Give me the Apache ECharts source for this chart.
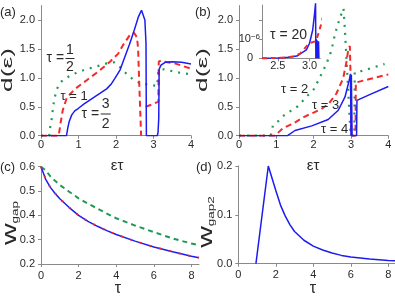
<!DOCTYPE html>
<html><head><meta charset="utf-8">
<script src="https://cdn.jsdelivr.net/npm/echarts@6/dist/echarts.min.js"></script>
<style>html,body{margin:0;padding:0;background:#fff}#c{width:395px;height:296px}</style>
</head><body><div id="c"></div>
<script>
// ---- data ----
// panel (a): d(eps) vs eps*tau
const aTauHalf = [[0,0],[0.22,0],[0.24,0.13],[0.28,0.27],[0.31,0.42],[0.35,0.62],[0.42,0.8],[0.5,0.91],[0.6,0.97],[0.73,1.02],[0.95,1.09],[1.17,1.14],[1.49,1.2],[1.75,1.25],[1.95,1.27],[2.1,1.19],[2.28,1.07],[2.46,0.97],[2.64,0.91],[2.86,0.88],[3.1,0.86],[3.13,1.13],[3.28,1.15],[3.47,1.12],[3.69,1.09],[4.0,1.06]];
const aTauOne = [[0,0],[0.47,0],[0.5,0.12],[0.53,0.25],[0.58,0.44],[0.69,0.66],[0.91,0.81],[1.22,0.96],[1.53,1.11],[1.84,1.28],[2.06,1.42],[2.2,1.58],[2.37,1.74],[2.48,1.78],[2.56,1.7],[2.59,1.5],[2.62,0.9],[2.67,0],[2.72,null],[2.79,0.5],[3.0,0.55],[3.13,0.59],[3.14,1.28],[3.2,1.3],[3.29,1.28],[3.57,1.25],[4.0,1.16]];
const aTauThreeHalves = [[0,0],[0.68,0],[0.71,0.12],[0.75,0.24],[0.82,0.36],[0.9,0.43],[0.99,0.47],[1.15,0.55],[1.31,0.62],[1.57,0.73],[1.75,0.81],[1.88,0.9],[1.97,0.99],[2.11,1.14],[2.24,1.37],[2.36,1.58],[2.46,1.77],[2.6,2.06],[2.68,2.17],[2.73,2.15],[2.77,2.0],[2.8,1.6],[2.81,0],[3.1,0],[3.12,0.05],[3.14,0.3],[3.15,1.15],[3.2,1.22],[3.31,1.27],[3.5,1.28],[3.75,1.27],[4.0,1.24]];
// panel (b)
const bTau2 = [[0,0],[0.85,0],[0.91,0.18],[1.05,0.25],[1.22,0.36],[1.58,0.51],[1.8,0.67],[2.0,0.8],[2.16,1.0],[2.34,1.24],[2.47,1.46],[2.57,1.75],[2.65,1.93],[2.74,2.1],[2.8,2.2],[2.84,1.8],[2.89,1.2],[2.94,0.6],[2.99,0],[3.09,0],[3.1,1.1],[3.3,1.12],[3.55,1.17],[3.9,1.24]];
const bTau3 = [[0,0],[0.96,0],[1.18,0.13],[1.45,0.21],[1.76,0.33],[2.0,0.4],[2.2,0.46],[2.4,0.55],[2.61,0.73],[2.79,0.99],[2.88,1.28],[2.93,1.5],[2.97,1.55],[2.99,1.0],[3.01,0],[3.12,0],[3.13,0.92],[3.5,0.98],[4.0,1.06]];
const bTau4 = [[0,0],[1.3,0],[1.5,0.09],[1.95,0.17],[2.39,0.28],[2.66,0.44],[2.84,0.67],[2.95,0.95],[2.99,1.07],[3.0,0],[3.01,1.05],[3.03,0],[3.15,0],[3.16,0.61],[3.5,0.71],[4.0,0.85]];
// inset of (b), tau = 20, values in units of 1e-6
const insetTau20Blue = [[2.25,0],[2.5,0.02],[2.66,0.05],[2.8,0.12],[2.95,0.44],[3.0,0.79],[3.05,1.49],[3.08,2.37],[3.095,2.9],[3.1,0],[3.106,1.0],[3.112,0],[3.118,0.95],[3.124,0],[3.13,0.9],[3.136,0],[3.142,0.9],[3.148,0]];
const insetTau20Red = [[2.25,0],[2.6,0.03],[2.75,0.1],[2.85,0.25],[2.93,0.55],[3.0,0.8],[3.1,0.9],[3.15,1.4],[3.2,2.0],[3.27,3.1]];
// panel (c): w_gap vs tau
const cTau = [0,0.25,0.5,0.75,1,1.5,2,2.5,3,3.5,4,5,6,7,8,8.4];
const cBlue = [0.6,0.548,0.515,0.49,0.468,0.432,0.40,0.375,0.355,0.337,0.321,0.294,0.270,0.250,0.232,0.226];
const cRed = [0.6,0.548,0.515,0.49,0.468,0.432,0.40,0.375,0.355,0.337,0.321,0.294,0.270,0.250,0.232,0.226];
const cGreen = [0.6,0.585,0.56,0.542,0.525,0.497,0.47,0.448,0.428,0.407,0.388,0.358,0.331,0.305,0.284,0.277];
// panel (d): w_gap2 vs tau
const dTau = [0.94,1.6,2.0,2.25,2.5,2.75,3,3.5,4,4.5,5,5.5,6,7,8,8.4];
const dW2 = [0,0.2,0.15,0.12,0.098,0.08,0.066,0.048,0.036,0.028,0.022,0.017,0.0135,0.0095,0.0068,0.006];
// ticks
const abXTicks = [0,1,2,3,4];
const abYTicks = [0,0.5,1,1.5,2];
const cdXTicks = [0,2,4,6,8];
const cYTicks = [0.2,0.3,0.4,0.5,0.6];
const dYTicks = [0,0.1,0.2];
const insetXTicks = [2.5,3.0];
const insetYTicks = [0,1,2];
const insetYLabels = [0,1];

const FONT = 'Liberation Sans';
const BLUE = '#1c1cf2', RED = '#f42a2a', GREEN = '#1e9a55';
const AX = '#8a8a8a', TX = '#2a2a2a';

function axis(gi, min, max, ticks, margin, fmt, extra) {
  const a = {
    type: 'value', gridIndex: gi, min: min, max: max,
    axisLine: {show: true, onZero: false, lineStyle: {color: AX, width: 1}},
    axisTick: {show: true, inside: false, length: 3, customValues: ticks, lineStyle: {color: AX}},
    axisLabel: {show: true, customValues: ticks, margin: margin, color: TX, fontSize: 11, fontFamily: FONT,
      formatter: fmt || (v => String(v))},
    splitLine: {show: false}
  };
  if (extra) extra(a);
  return a;
}
const f1 = v => v.toFixed(1);
const zip = (xs, ys) => xs.map((x, i) => [x, ys[i]]);

function line(xi, data, color, width, type, extra) {
  const s = {type: 'line', xAxisIndex: xi, yAxisIndex: xi, data: data, showSymbol: false, symbol: 'none',
    animation: false, connectNulls: false,
    lineStyle: {color: color, width: width, type: type, cap: 'butt'}};
  if (extra) Object.assign(s, extra);
  return s;
}

function txt(x, y, s, size, align, extra) {
  const t = {type: 'text', x: x, y: y, z: 100,
    style: {text: s, fontSize: size, fontFamily: FONT, fill: TX, align: align || 'left', verticalAlign: 'middle'}};
  if (extra) Object.assign(t, extra);
  return t;
}
function frac(xEq, yMid, num, den, xF, dy, halfW, size) {
  return [
    txt(xEq, yMid, 'τ =', size, 'left'),
    txt(xF, yMid - dy, num, size, 'center'),
    {type: 'line', z: 100, shape: {x1: xF - halfW, y1: yMid, x2: xF + halfW, y2: yMid}, style: {stroke: TX, lineWidth: 1}},
    txt(xF, yMid + dy, den, size, 'center')
  ];
}
function vtitle(x, y, rich, text, sc) {
  return {type: 'text', x: x, y: y, rotation: Math.PI / 2, scaleX: sc, z: 100,
    style: {text: text, rich: rich, fontFamily: FONT, fill: TX, align: 'center', verticalAlign: 'middle'}};
}
const wRich = {w: {fontSize: 20, fontFamily: FONT, fill: TX, lineHeight: 20, verticalAlign: 'bottom'},
               s: {fontSize: 9, fontFamily: FONT, fill: TX, lineHeight: 10, verticalAlign: 'bottom'}};
const dRich = {d: {fontSize: 15, fontFamily: FONT, fill: TX}};

const chart = echarts.init(document.getElementById('c'), null, {renderer: 'canvas'});
chart.setOption({
  animation: false,
  backgroundColor: '#fff',
  grid: [
    {left: 41, top: 5.6, width: 150, height: 130.1, containLabel: false, outerBoundsMode: 'none'},
    {left: 239, top: 5.6, width: 149.3, height: 130.1, containLabel: false, outerBoundsMode: 'none'},
    {left: 41, top: 166.7, width: 158, height: 97.3, containLabel: false, outerBoundsMode: 'none'},
    {left: 238.3, top: 166, width: 157.5, height: 97.7, containLabel: false, outerBoundsMode: 'none'},
    {left: 262, top: 5.1, width: 58.3, height: 53.2, containLabel: false, outerBoundsMode: 'none'}
  ],
  xAxis: [
    axis(0, 0, 4, abXTicks, 4),
    axis(1, 0, 4, abXTicks, 4),
    axis(2, 0, 8.4, cdXTicks, 6),
    axis(3, 0, 8.4, cdXTicks, 6),
    axis(4, 2.25, 3.17, insetXTicks, 2, f1)
  ],
  yAxis: [
    axis(0, 0, 2.25, abYTicks, 6, f1),
    axis(1, 0, 2.25, abYTicks, 6, f1),
    axis(2, 0.2, 0.6, cYTicks, 6, f1),
    axis(3, 0, 0.2, dYTicks, 6, f1),
    axis(4, 0, 2.8, insetYTicks, 2, v => v === 0 ? '{z|0}' : '{b|10}{s|−6}', a => {
      a.axisLabel.customValues = insetYLabels;
      a.axisLabel.rich = {z: {fontSize: 11, fontFamily: FONT, color: TX, padding: [0, 7, 0, 0]},
        b: {fontSize: 11, fontFamily: FONT, color: TX, lineHeight: 14},
        s: {fontSize: 8, fontFamily: FONT, color: TX, lineHeight: 9, verticalAlign: 'top'}};
    })
  ],
  series: [
    line(0, aTauHalf, GREEN, 2.2, [2, 6]),
    line(0, aTauOne, RED, 2, [6, 4]),
    line(0, aTauThreeHalves, BLUE, 1.5, 'solid'),
    line(1, bTau2, GREEN, 2.2, [2, 6]),
    line(1, bTau3, RED, 2, [6, 4]),
    line(1, bTau4, BLUE, 1.5, 'solid'),
    line(2, zip(cTau, cGreen), GREEN, 2, [5, 4]),
    line(2, zip(cTau, cBlue), BLUE, 1.5, 'solid'),
    line(2, zip(cTau, cRed), RED, 2, [2, 8]),
    line(3, zip(dTau, dW2), BLUE, 1.5, 'solid'),
    line(4, insetTau20Blue, BLUE, 1.5, 'solid', {clip: false}),
    line(4, insetTau20Red, RED, 2, [5, 4], {clip: false})
  ],
  graphic: [].concat(
    [txt(0, 12.5, '(a)', 13), txt(195, 12.5, '(b)', 13), txt(0, 167.5, '(c)', 13), txt(196, 167, '(d)', 13)],
    [txt(117, 166, 'ετ', 15, 'center'), txt(313, 166, 'ετ', 15, 'center'),
     txt(118, 289, 'τ', 16, 'center'), txt(313, 289, 'τ', 16, 'center')],
    [vtitle(8, 70, dRich, '{d|d(ε)}', 1.75), vtitle(203, 70, dRich, '{d|d(ε)}', 1.75),
     vtitle(10, 223, wRich, '{w|w}{s|gap}', 1.5), vtitle(206, 222, wRich, '{w|w}{s|gap2}', 1.5)],
    frac(46.5, 58.5, '1', '2', 70, 8.5, 4.5, 14),
    [txt(60.5, 96.7, 'τ = 1', 13)],
    frac(81.5, 114, '3', '2', 105.7, 10, 5, 14),
    [txt(270, 35, 'τ = 20', 14), txt(281, 89.5, 'τ = 2', 13), txt(312, 105, 'τ = 3', 13), txt(321, 129, 'τ = 4', 13)]
  )
});
</script></body></html>
